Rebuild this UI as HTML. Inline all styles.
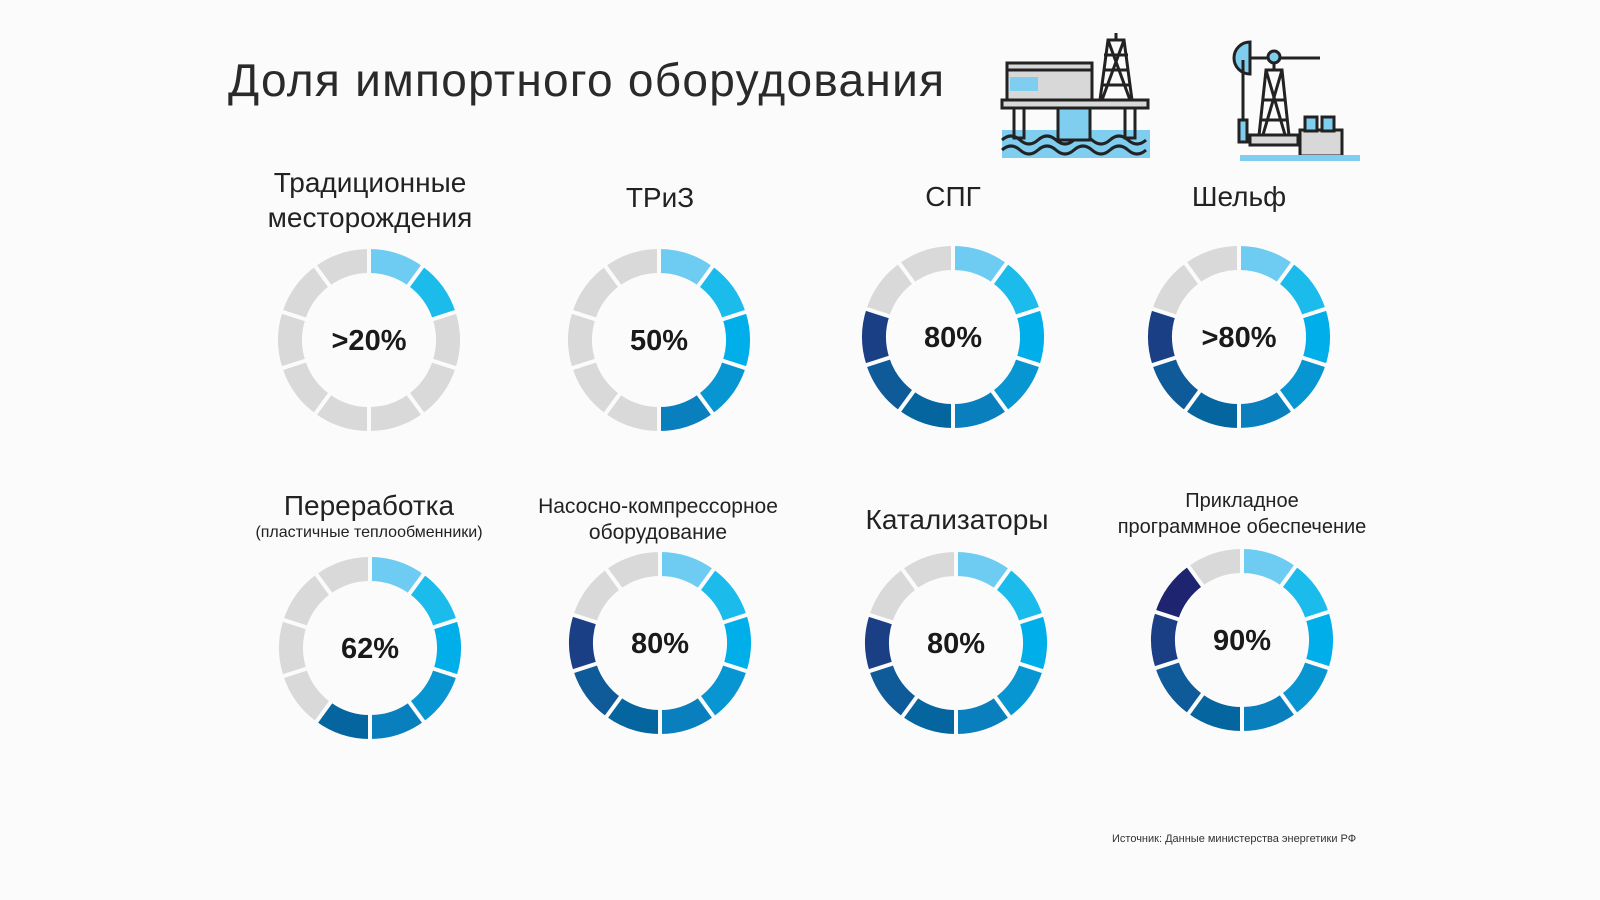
<!DOCTYPE html>
<html><head><meta charset="utf-8"><style>
html,body{margin:0;padding:0;background:#fcfbfc;}
svg{display:block;font-family:"Liberation Sans","DejaVu Sans",sans-serif;}
</style></head><body>
<svg id="s" width="1600" height="900" viewBox="0 0 1600 900" xmlns="http://www.w3.org/2000/svg">
<rect width="1600" height="900" fill="#fcfbfc"/>
<text x="228" y="96" font-size="46" fill="#2a2a2a" textLength="716" lengthAdjust="spacing">Доля импортного оборудования</text>
<g fill="#222" text-anchor="middle" font-size="28">
<text x="370" y="192">Традиционные</text>
<text x="370" y="227">месторождения</text>
<text x="660" y="207">ТРиЗ</text>
<text x="953" y="206">СПГ</text>
<text x="1239" y="206">Шельф</text>
<text x="369" y="515">Переработка</text>
<text x="369" y="537" font-size="16">(пластичные теплообменники)</text>
<text x="658" y="513" font-size="21">Насосно-компрессорное</text>
<text x="658" y="539" font-size="21">оборудование</text>
<text x="957" y="529" font-size="28">Катализаторы</text>
<text x="1242" y="507" font-size="20">Прикладное</text>
<text x="1242" y="533" font-size="20">программное обеспечение</text>
</g>
<text x="1112" y="842" font-size="11" fill="#333">Источник: Данные министерства энергетики РФ</text>
<g id="donuts"></g>
<g id="txt" font-weight="bold" font-size="29" fill="#1a1a1a" text-anchor="middle"></g>
<g stroke="#222" stroke-width="3" fill="none">
<rect x="1002" y="130" width="148" height="28" fill="#7fcdef" stroke="none"/>
<path d="M1002 140 q9 -8 18 0 t18 0 t18 0 t18 0 t18 0 t18 0 t18 0 t18 0" />
<path d="M1002 150 q9 -8 18 0 t18 0 t18 0 t18 0 t18 0 t18 0 t18 0 t18 0" />
<rect x="1058" y="105" width="32" height="35" fill="#7fcdef"/>
<rect x="1014" y="108" width="10" height="30"/><rect x="1125" y="108" width="10" height="30"/>
<rect x="1007" y="63" width="85" height="40" fill="#d8d8d8"/>
<rect x="1002" y="100" width="146" height="8" fill="#d8d8d8"/>
<rect x="1010" y="77" width="28" height="14" fill="#7fcdef" stroke="none"/>
<path d="M1007 70 h85"/>
<path d="M1100 100 L1108 40 L1124 40 L1132 100 Z M1104 70 h24 M1102 85 h28 M1104 55 h24 M1108 40 L1130 100 M1124 40 L1102 100"/>
<path d="M1116 33 v7"/>
<path d="M1258 145 L1266 70 L1282 70 L1290 145 Z M1262 100 h24 M1260 120 h28 M1266 70 L1288 145 M1282 70 L1260 145"/>
<rect x="1250" y="135" width="48" height="10" fill="#d8d8d8"/>
<path d="M1250 58 h70 M1274 58 v12"/><circle cx="1274" cy="57" r="6" fill="#7fcdef"/>
<path d="M1250 42 a16 16 0 0 0 0 32 z" fill="#7fcdef"/>
<path d="M1243 60 v60"/><rect x="1239" y="120" width="8" height="22" fill="#7fcdef"/>
<rect x="1300" y="130" width="42" height="26" fill="#d8d8d8"/>
<rect x="1305" y="117" width="12" height="14" fill="#7fcdef"/><rect x="1322" y="117" width="12" height="14" fill="#7fcdef"/>
<rect x="1240" y="155" width="120" height="6" fill="#7fcdef" stroke="none"/>
</g>
</svg>
<script>
var cols=["#6ecbf1","#1bbcec","#00aee9","#0796d1","#0a7fbd","#05659f","#0f5a98","#1a3f85","#1f2470"];
var d=[[369,340,2,">20%"],[659,340,5,"50%"],[953,337,8,"80%"],[1239,337,8,">80%"],
[370,648,6,"62%"],[660,643,8,"80%"],[956,643,8,"80%"],[1242,640,9,"90%"]];
var g=document.getElementById("donuts"),t=document.getElementById("txt"),h="",th="";
var R=91,r=67;
function p(cx,cy,rad,a){a=(a-90)*Math.PI/180;return (cx+rad*Math.cos(a)).toFixed(1)+" "+(cy+rad*Math.sin(a)).toFixed(1);}
d.forEach(function(o){
 for(var i=0;i<10;i++){
  var a0=i*36,a1=a0+36,c=i<o[2]?cols[i]:"#d9d9d9";
  h+='<path fill="'+c+'" d="M'+p(o[0],o[1],R,a0)+' A'+R+' '+R+' 0 0 1 '+p(o[0],o[1],R,a1)+' L'+p(o[0],o[1],r,a1)+' A'+r+' '+r+' 0 0 0 '+p(o[0],o[1],r,a0)+'Z"/>';
 }
 for(var i=0;i<10;i++){var a=p(o[0],o[1],r-2,i*36).split(" "),b=p(o[0],o[1],R+2,i*36).split(" ");h+='<line stroke="#fcfbfc" stroke-width="4" x1="'+a[0]+'" y1="'+a[1]+'" x2="'+b[0]+'" y2="'+b[1]+'"/>';}
 th+='<text x="'+o[0]+'" y="'+(o[1]+10)+'">'+o[3].replace(">","&gt;")+'</text>';
});
g.innerHTML=h;t.innerHTML=th;
</script>
</body></html>
